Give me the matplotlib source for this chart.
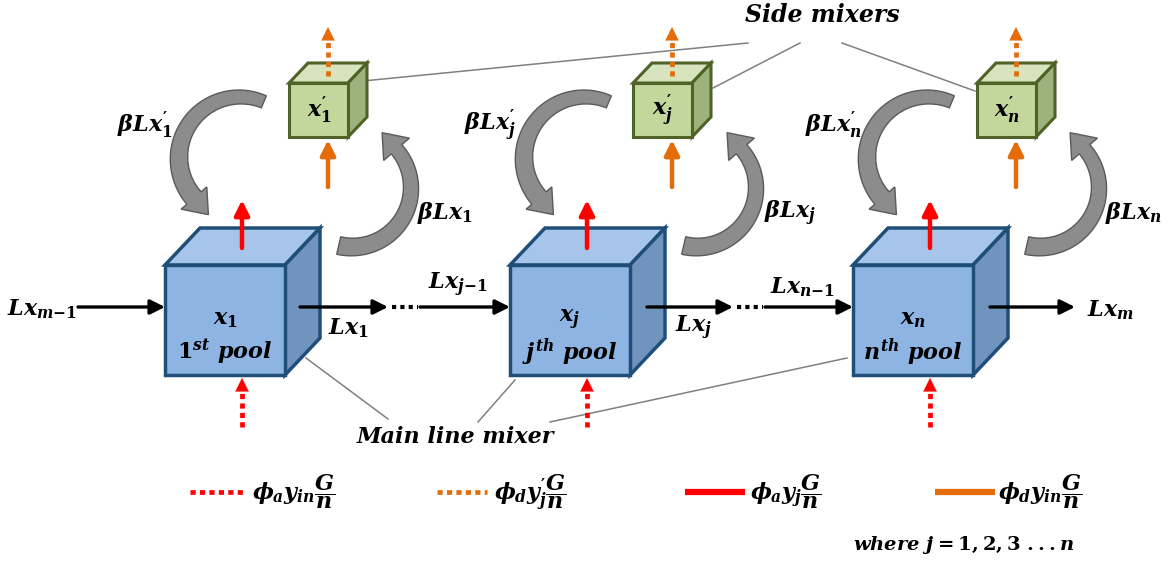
import matplotlib
matplotlib.use('Agg')
import matplotlib.pyplot as plt
import numpy as np
from matplotlib.patches import Polygon, FancyArrowPatch

plt.rcParams['mathtext.fontset'] = 'custom'
plt.rcParams['mathtext.it'] = 'DejaVu Serif:italic:bold'
plt.rcParams['mathtext.rm'] = 'DejaVu Serif:bold'
plt.rcParams['mathtext.bf'] = 'DejaVu Serif:bold'

# labels of the diagram
pool_vars = [r'$x_1$', r'$x_j$', r'$x_n$']
pool_names = [r'$1^{st}\ pool$', r'$j^{th}\ pool$', r'$n^{th}\ pool$']
side_vars = [r'$x_1^{\prime}$', r'$x_j^{\prime}$', r'$x_n^{\prime}$']
back_flow = [r'$\beta Lx_1^{\prime}$', r'$\beta Lx_j^{\prime}$', r'$\beta Lx_n^{\prime}$']
fwd_flow = [r'$\beta Lx_1$', r'$\beta Lx_j$', r'$\beta Lx_n$']
out_flow = [r'$Lx_1$', r'$Lx_j$']
in_flow = [r'$Lx_{j{-}1}$', r'$Lx_{n{-}1}$']
legend_txt = [r'$\phi_a y_{in}\dfrac{G}{n}$', r'$\phi_d y_j^{\prime}\dfrac{G}{n}$',
              r'$\phi_a y_j\dfrac{G}{n}$', r'$\phi_d y_{in}\dfrac{G}{n}$']

# layout (pixels, y downwards)
pool_x = [165, 510, 853]
side_x = [289, 633, 977]

RED = '#FF0000'
ORANGE = '#E46C0A'
GRAY = '#8C8C8C'

fig = plt.figure(figsize=(11.68, 5.62), dpi=100)
ax = fig.add_axes([0, 0, 1, 1])
ax.set_xlim(0, 1168)
ax.set_ylim(562, 0)
ax.axis('off')


def cube(x0, y0, w, h, dx, dy, front, top, side, edge, lw):
    ax.add_patch(Polygon([(x0, y0), (x0+dx, y0-dy), (x0+w+dx, y0-dy), (x0+w, y0)],
                         closed=True, fc=top, ec=edge, lw=lw, zorder=3, joinstyle='miter'))
    ax.add_patch(Polygon([(x0+w, y0), (x0+w+dx, y0-dy), (x0+w+dx, y0+h-dy), (x0+w, y0+h)],
                         closed=True, fc=side, ec=edge, lw=lw, zorder=3, joinstyle='miter'))
    ax.add_patch(Polygon([(x0, y0), (x0+w, y0), (x0+w, y0+h), (x0, y0+h)],
                         closed=True, fc=front, ec=edge, lw=lw, zorder=3, joinstyle='miter'))


def arrow(p0, p1, color, lw, ms, z=5):
    ax.add_patch(FancyArrowPatch(p0, p1, arrowstyle='-|>', color=color, lw=lw,
                                 mutation_scale=ms, shrinkA=0, shrinkB=0, zorder=z))


def dotted_arrow(x, y0, y1, color):
    # dotted shaft, solid head
    ax.plot([x, x], [y0, y1 + 12], color=color, lw=3.4, ls=(0, (1.1, 0.9)), zorder=5,
            solid_capstyle='butt', dash_capstyle='butt')
    arrow((x, y1 + 13), (x, y1), color, 0.1, 24)


def curved_arrow(cx, cy, r, t0, t1, w0, w1, hw=34, hl=22):
    # thick arc arrow, angles in degrees (counter-clockwise on screen)
    t = np.radians(np.linspace(t0, t1, 80))
    w = np.linspace(w0, w1, 80) / 2
    c, s = np.cos(t), -np.sin(t)
    outer = np.c_[cx + (r + w) * c, cy + (r + w) * s]
    inner = np.c_[cx + (r - w) * c, cy + (r - w) * s]
    te = t[-1]
    p = np.array([cx + r * np.cos(te), cy - r * np.sin(te)])
    nrm = np.array([np.cos(te), -np.sin(te)])
    tan = np.array([-np.sin(te), -np.cos(te)]) * np.sign(t1 - t0)
    head = [p + nrm * hw / 2, p + tan * hl, p - nrm * hw / 2]
    pts = np.vstack([outer, head, inner[::-1]])
    ax.add_patch(Polygon(pts, closed=True, fc=GRAY, ec='#5A5A5A', lw=1, zorder=2))


mt = dict(fontsize=16, ha='center', va='center', zorder=6)

# leader lines
lc = dict(color='#808080', lw=1.1, zorder=1)
ax.plot([363, 748], [81, 43], **lc)
ax.plot([800, 713], [43, 88], **lc)
ax.plot([842, 975], [43, 91], **lc)
ax.plot([306, 388], [358, 419], **lc)
ax.plot([515, 478], [380, 422], **lc)
ax.plot([550, 847], [422, 358], **lc)
ax.text(822, 15, 'Side mixers', fontsize=17, family='DejaVu Serif', style='italic',
        weight='bold', ha='center', va='center')
ax.text(455, 437, 'Main line mixer', fontsize=16, family='DejaVu Serif', style='italic',
        weight='bold', ha='center', va='center')

for i in range(3):
    px, sx = pool_x[i], side_x[i]
    cube(px, 265, 120, 110, 35, 37, '#8EB4E3', '#A7C5EA', '#7194BF', '#1F4E79', 2.5)
    cube(sx, 83, 59, 54, 19, 20, '#C3D69B', '#D7E4BD', '#9DB27C', '#4F6228', 2.2)
    ax.text(px + 60, 320, pool_vars[i], **mt)
    ax.text(px + 60, 352, pool_names[i], **mt)
    ax.text(sx + 30, 110, side_vars[i], **mt)
    ax.text(px - 20, 125, back_flow[i], **mt)
    ax.text(px + 280, 213, fwd_flow[i], **mt)

    # red streams on the main pool
    tx = px + 77
    arrow((tx, 248), (tx, 200), RED, 3.2, 22)
    dotted_arrow(tx, 427, 378, RED)
    # orange streams on the side mixer
    ox = sx + 39
    arrow((ox, 187), (ox, 140), ORANGE, 3.2, 22)
    dotted_arrow(ox, 76, 27, ORANGE)

    # gray exchange arrows
    off = px - pool_x[0]
    curved_arrow(240 + off, 158, 61, 67, 221, 13, 19)
    curved_arrow(352 + off, 188, 59, -103, 41, 18, 14)

# main line flows
y = 307
arrow((78, y), (165, y), 'k', 2.4, 22)
arrow((300, y), (388, y), 'k', 2.4, 22)
arrow((420, y), (510, y), 'k', 2.4, 22)
arrow((647, y), (733, y), 'k', 2.4, 22)
arrow((765, y), (853, y), 'k', 2.4, 22)
arrow((990, y), (1075, y), 'k', 2.4, 22)
for x0, x1 in [(392, 418), (737, 763)]:
    ax.plot([x0, x1], [y, y], color='k', lw=3, ls=(0, (1, 1)), zorder=4)
ax.text(42, 309, r'$Lx_{m{-}1}$', **mt)
ax.text(348, 328, out_flow[0], **mt)
ax.text(693, 328, out_flow[1], **mt)
ax.text(458, 285, in_flow[0], **mt)
ax.text(803, 287, in_flow[1], **mt)
ax.text(1110, 310, r'$Lx_m$', **mt)

# legend row
ly = 492
ax.plot([190, 245], [ly, ly], color=RED, lw=3.4, ls=(0, (1.1, 0.9)))
ax.plot([437, 487], [ly, ly], color=ORANGE, lw=3.4, ls=(0, (1.1, 0.9)))
ax.plot([685, 745], [ly, ly], color=RED, lw=4.5, solid_capstyle='butt')
ax.plot([935, 995], [ly, ly], color=ORANGE, lw=4.5, solid_capstyle='butt')
for xt, s in zip([252, 494, 750, 998], legend_txt):
    ax.text(xt, ly, s, fontsize=16, ha='left', va='center')
ax.text(853, 545, r'$where\ j = 1,2,3\ ...n$', fontsize=14, ha='left', va='center')

fig.savefig('out.png', dpi=100)
